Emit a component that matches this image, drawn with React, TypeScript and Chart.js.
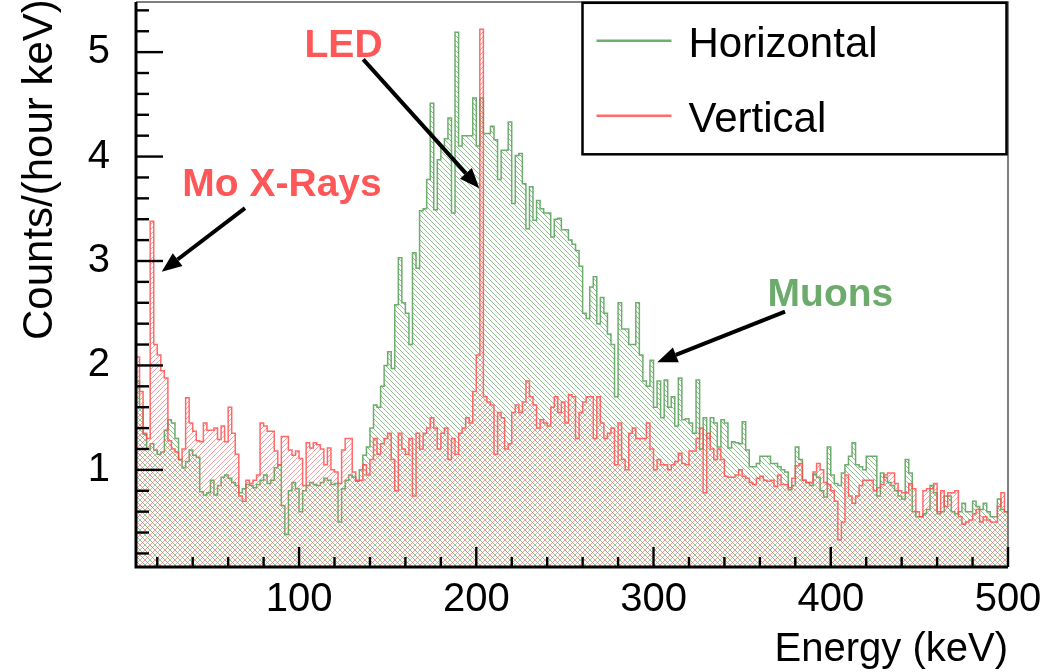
import React, { useEffect, useRef } from "react";
import { Chart, registerables } from "chart.js";

Chart.register(...registerables);

// ---------- data ----------
const X_MIN = 8;
const X_MAX = 500;
const BIN_WIDTH = 2;
const Y_MIN = 0.07;
const Y_MAX = 5.48;

// Counts/(hour keV), one value per 2 keV bin starting at 8 keV
const horizontalCounts = [
  1.85, 1.6, 1.34, 1.2, 1.25, 1.19, 1.15, 1.17, 1.38, 1.48,
  1.45, 1.3, 1.1, 1.02, 1.08, 1.19, 1.14, 1.12, 0.79, 0.76,
  0.78, 0.9, 0.76, 0.85, 0.93, 0.95, 0.92, 0.88, 0.85, 0.78,
  0.82, 0.86, 0.85, 0.83, 0.86, 0.9, 0.95, 0.87, 0.9, 1.02,
  1.05, 0.66, 0.38, 0.8, 0.88, 0.82, 0.6, 0.8, 0.85, 0.88,
  0.86, 0.85, 0.88, 0.92, 0.9, 0.86, 0.87, 0.5, 0.82, 0.9,
  0.95, 0.93, 0.89, 1.0, 1.14, 1.22, 1.4, 1.62, 1.6, 1.8,
  2.0, 2.13, 1.97, 2.58, 3.03, 2.6, 2.5, 2.2, 3.08, 2.93,
  3.48, 3.5, 3.78, 4.51, 3.49, 3.97, 4.1, 4.17, 4.37, 3.46,
  5.19, 4.1, 4.2, 4.2, 4.2, 4.56, 4.1, 4.56, 4.22, 4.22,
  4.29, 4.16, 3.78, 4.06, 4.06, 4.33, 3.55, 4.01, 4.03, 3.74,
  3.31, 3.71, 3.39, 3.58, 3.5, 3.46, 3.46, 3.23, 3.4, 3.41,
  3.3, 3.3, 3.2, 3.16, 3.1, 2.95, 2.5, 2.45, 2.75, 2.85,
  2.4, 2.65, 2.5, 2.3, 2.2, 1.7, 2.6, 2.35, 2.35, 2.2,
  2.2, 2.6, 2.1, 1.85, 1.8, 2.05, 1.6, 1.85, 1.5, 1.86,
  1.6, 1.7, 1.42, 1.88, 1.48, 1.49, 1.45, 1.35, 1.86, 1.2,
  1.5, 1.3, 1.5, 1.45, 1.22, 1.48, 1.45, 1.21, 1.27, 1.26,
  1.25, 1.46, 1.19, 1.03, 1.03, 1.06, 1.13, 1.13, 1.13, 1.06,
  1.06, 1.03, 1.0, 0.98, 0.81, 0.85, 1.22, 1.1, 0.9, 0.88,
  0.85, 0.96, 0.93, 0.8, 0.74, 1.22, 0.95, 0.87, 0.85, 0.97,
  1.05, 1.13, 1.26, 1.05, 1.03, 1.0, 1.13, 1.13, 1.13, 0.75,
  0.97, 0.93, 0.88, 0.85, 0.8, 0.75, 0.72, 1.1, 0.97, 0.6,
  0.55, 0.55, 0.58, 0.62, 0.85, 0.78, 0.58, 0.6, 0.75, 0.75,
  0.6, 0.58, 0.6, 0.68, 0.6, 0.6, 0.7, 0.65, 0.62, 0.68,
  0.6, 0.55, 0.55, 0.72, 0.62, 0.6,
];

const verticalCounts = [
  2.08, 1.75, 1.35, 1.3, 3.38, 2.2, 2.1, 1.95, 1.88, 1.28,
  1.2, 1.17, 1.1, 1.2, 1.69, 1.45, 1.37, 1.28, 1.27, 1.45,
  1.38, 1.38, 1.4, 1.29, 1.42, 1.27, 1.6, 1.35, 1.15, 0.75,
  0.7, 0.9, 0.87, 0.9, 0.95, 1.45, 1.42, 1.37, 1.37, 1.18,
  1.05, 1.32, 1.32, 1.19, 1.14, 1.18, 1.11, 0.85, 1.26, 1.21,
  1.26, 1.24, 1.2, 1.05, 1.21, 1.0, 0.98, 0.87, 1.19, 1.3,
  1.3, 0.98, 0.9, 0.9, 1.05, 0.95, 1.1, 1.3, 1.15, 1.25,
  1.3, 1.35, 1.1, 0.8, 1.35, 1.2, 1.15, 1.3, 0.75, 1.35,
  1.2, 1.35, 1.4, 1.5, 1.4, 1.2, 1.35, 1.4, 1.1, 1.3,
  1.15, 1.35, 1.4, 1.5, 1.45, 1.75, 2.1, 5.22, 1.7, 1.65,
  1.62, 1.15, 1.55, 1.5, 1.2, 1.25, 1.55, 1.62, 1.55, 1.65,
  1.85, 1.7, 1.62, 1.4, 1.48, 1.45, 1.42, 1.6, 1.7, 1.55,
  1.65, 1.45, 1.72, 1.7, 1.3, 1.55, 1.65, 1.7, 1.7, 1.3,
  1.7, 1.45, 1.3, 1.35, 1.4, 1.05, 1.45, 1.1, 1.0, 1.35,
  1.4, 1.3, 1.3, 1.3, 1.45, 1.2, 1.0, 1.1, 1.05, 1.05,
  1.0, 1.05, 1.08, 1.16, 1.06, 1.05, 1.18, 1.18, 1.3, 1.4,
  0.78, 1.35, 1.2, 1.1, 1.2, 1.1, 0.94, 0.93, 0.93, 0.95,
  1.0, 0.94, 0.92, 0.88, 0.86, 0.92, 0.94, 0.9, 0.89, 0.9,
  0.84, 0.95, 0.86, 0.86, 0.83, 0.92, 1.04, 1.06, 0.9, 0.88,
  0.88, 0.98, 1.06, 1.0, 0.88, 0.86, 0.8, 0.7, 0.33, 0.5,
  0.95, 0.75, 0.68, 0.75, 0.85, 0.9, 0.9, 0.9, 0.8, 0.83,
  0.86, 0.95, 0.97, 0.97, 0.87, 0.8, 0.78, 0.78, 0.87, 0.82,
  0.6, 0.55, 0.8, 0.82, 0.82, 0.87, 0.6, 0.8, 0.65, 0.78,
  0.78, 0.8, 0.55, 0.48, 0.5, 0.52, 0.58, 0.62, 0.5, 0.55,
  0.52, 0.5, 0.5, 0.65, 0.78, 0.6,
];

const xTickLabels = [100, 200, 300, 400, 500];
const yTickLabels = [1, 2, 3, 4, 5];
const seriesLabels = ["Horizontal", "Vertical"];
const xAxisTitle = "Energy (keV)";
const yAxisTitle = "Counts/(hour keV)";

const annotationTexts = [
  { text: "Mo X-Rays", x: 90.4, y: 3.62, series: 1 },
  { text: "LED", x: 125.1, y: 4.95, series: 1 },
  { text: "Muons", x: 399.8, y: 2.57, series: 0 },
];
const annotationArrows = [
  { x0: 69.5, y0: 3.507, x1: 22.5, y1: 2.898 },
  { x0: 136.2, y0: 4.93, x1: 201.7, y1: 3.696 },
  { x0: 374.2, y0: 2.515, x1: 302.1, y1: 2.03 },
];

// ---------- styles ----------
const FONT = '"Liberation Sans", Arial, Helvetica, sans-serif';
const LINE_COLORS = ["rgba(85,160,85,0.85)", "rgba(255,80,80,0.85)"];
const HATCH_COLORS = ["rgba(90,160,90,0.68)", "rgba(255,95,95,0.6)"];
const TEXT_COLORS = ["#6dab6d", "#ff5757"];

function makeHatch(ctx: CanvasRenderingContext2D, color: string, forward: boolean): CanvasPattern | string {
  const size = 5;
  const c = document.createElement("canvas");
  c.width = size;
  c.height = size;
  const g = c.getContext("2d");
  if (!g) return color;
  g.strokeStyle = color;
  g.lineWidth = 1;
  g.beginPath();
  for (let k = -1; k <= 1; k++) {
    const o = k * size;
    if (forward) {
      g.moveTo(o, size);
      g.lineTo(o + size, 0);
    } else {
      g.moveTo(o, 0);
      g.lineTo(o + size, size);
    }
  }
  g.stroke();
  return ctx.createPattern(c, "repeat") ?? color;
}

function toPoints(values: number[]) {
  const pts = values.map((v, i) => ({ x: X_MIN + i * BIN_WIDTH, y: v }));
  pts.push({ x: X_MAX, y: values[values.length - 1] });
  return pts;
}

const decorPlugin = {
  id: "rootDecor",
  afterDraw(chart: any) {
    const { ctx, chartArea: a, scales } = chart;
    const xs = scales.x;
    const ys = scales.y;
    ctx.save();

    // frame: thin top/right, thick axes left/bottom
    ctx.strokeStyle = "#555";
    ctx.lineWidth = 1.5;
    ctx.beginPath();
    ctx.moveTo(a.left, a.top);
    ctx.lineTo(a.right, a.top);
    ctx.lineTo(a.right, a.bottom);
    ctx.stroke();

    ctx.strokeStyle = "#000";
    ctx.lineWidth = 3;
    ctx.beginPath();
    ctx.moveTo(a.left, a.top);
    ctx.lineTo(a.left, a.bottom);
    ctx.lineTo(a.right, a.bottom);
    ctx.stroke();

    // tick marks (inside the frame)
    ctx.fillStyle = "#000";
    for (let k = 1; k * 0.2 < Y_MAX; k++) {
      const v = k * 0.2;
      if (v < Y_MIN) continue;
      const py = ys.getPixelForValue(v);
      const len = k % 5 === 0 ? 27 : 13;
      ctx.fillRect(a.left, py - 1.2, len, 2.4);
    }
    for (let e = 20; e <= X_MAX; e += 20) {
      const px = xs.getPixelForValue(e);
      const len = e % 100 === 0 ? 20 : 10;
      ctx.fillRect(px - 1.2, a.bottom - len, 2.4, len);
    }

    // axis titles
    ctx.fillStyle = "#000";
    ctx.font = `40px ${FONT}`;
    ctx.textAlign = "right";
    ctx.textBaseline = "alphabetic";
    ctx.fillText(xAxisTitle, a.right, 661);

    ctx.save();
    ctx.font = `42px ${FONT}`;
    ctx.translate(52, 0);
    ctx.rotate(-Math.PI / 2);
    ctx.textAlign = "left";
    ctx.fillText(yAxisTitle, -340, 0);
    ctx.restore();

    // annotation arrows
    ctx.strokeStyle = "#000";
    ctx.fillStyle = "#000";
    ctx.lineWidth = 4;
    for (const ar of annotationArrows) {
      const x0 = xs.getPixelForValue(ar.x0);
      const y0 = ys.getPixelForValue(ar.y0);
      const x1 = xs.getPixelForValue(ar.x1);
      const y1 = ys.getPixelForValue(ar.y1);
      const ang = Math.atan2(y1 - y0, x1 - x0);
      const hl = 20;
      const hw = 8;
      const bx = x1 - hl * Math.cos(ang);
      const by = y1 - hl * Math.sin(ang);
      ctx.beginPath();
      ctx.moveTo(x0, y0);
      ctx.lineTo(bx, by);
      ctx.stroke();
      ctx.beginPath();
      ctx.moveTo(x1, y1);
      ctx.lineTo(bx + hw * Math.sin(ang), by - hw * Math.cos(ang));
      ctx.lineTo(bx - hw * Math.sin(ang), by + hw * Math.cos(ang));
      ctx.closePath();
      ctx.fill();
    }

    // annotation labels
    ctx.font = `bold 39px ${FONT}`;
    ctx.textAlign = "center";
    ctx.textBaseline = "alphabetic";
    for (const t of annotationTexts) {
      ctx.fillStyle = TEXT_COLORS[t.series];
      ctx.fillText(t.text, xs.getPixelForValue(t.x), ys.getPixelForValue(t.y));
    }

    // legend box
    const lx = a.right - 425.5;
    const ly = a.top + 0.8;
    const lw = 424;
    const lh = 151.5;
    ctx.fillStyle = "#fff";
    ctx.fillRect(lx, ly, lw, lh);
    ctx.strokeStyle = "#000";
    ctx.lineWidth = 2.5;
    ctx.strokeRect(lx, ly, lw, lh);

    ctx.font = `42px ${FONT}`;
    ctx.textAlign = "left";
    ctx.textBaseline = "alphabetic";
    seriesLabels.forEach((label, i) => {
      const rowY = ly + 38 + i * 75;
      ctx.strokeStyle = LINE_COLORS[i];
      ctx.lineWidth = 2.5;
      ctx.beginPath();
      ctx.moveTo(lx + 14, rowY);
      ctx.lineTo(lx + 89, rowY);
      ctx.stroke();
      ctx.fillStyle = "#000";
      ctx.fillText(label, lx + 106, rowY + 16.5);
    });

    ctx.restore();
  },
};

export default function App() {
  const ref = useRef<HTMLCanvasElement>(null);

  useEffect(() => {
    const canvas = ref.current;
    if (!canvas) return;
    const ctx = canvas.getContext("2d");
    if (!ctx) return;

    const greenHatch = makeHatch(ctx, HATCH_COLORS[0], false);
    const redHatch = makeHatch(ctx, HATCH_COLORS[1], true);

    const chart = new Chart(canvas, {
      type: "line",
      data: {
        datasets: [
          {
            label: seriesLabels[1],
            data: toPoints(verticalCounts),
            stepped: true,
            borderColor: LINE_COLORS[1],
            borderWidth: 1.5,
            backgroundColor: redHatch as any,
            fill: "start",
            pointRadius: 0,
            tension: 0,
          },
          {
            label: seriesLabels[0],
            data: toPoints(horizontalCounts),
            stepped: true,
            borderColor: LINE_COLORS[0],
            borderWidth: 1.5,
            backgroundColor: greenHatch as any,
            fill: "start",
            pointRadius: 0,
            tension: 0,
          },
        ],
      },
      options: {
        responsive: false,
        animation: false,
        events: [],
        layout: { padding: { top: 2, right: 36, left: 0, bottom: 0 } },
        plugins: {
          legend: { display: false },
          tooltip: { enabled: false },
        },
        scales: {
          x: {
            type: "linear",
            min: X_MIN,
            max: X_MAX,
            grid: { display: false, drawTicks: false },
            border: { display: false },
            afterBuildTicks: (s: any) => {
              s.ticks = xTickLabels.map((v) => ({ value: v }));
            },
            afterFit: (s: any) => {
              s.height = 105;
              s.paddingLeft = 0;
              s.paddingRight = 0;
            },
            ticks: {
              color: "#000",
              font: { family: FONT, size: 40 },
              padding: 9,
              autoSkip: false,
              maxRotation: 0,
              callback: (v: any) => String(v),
            },
          },
          y: {
            type: "linear",
            min: Y_MIN,
            max: Y_MAX,
            grid: { display: false, drawTicks: false },
            border: { display: false },
            afterBuildTicks: (s: any) => {
              s.ticks = yTickLabels.map((v) => ({ value: v }));
            },
            afterFit: (s: any) => {
              s.width = 136;
              s.paddingTop = 0;
              s.paddingBottom = 0;
            },
            ticks: {
              color: "#000",
              font: { family: FONT, size: 40 },
              padding: 26,
              autoSkip: false,
              callback: (v: any) => String(v),
            },
          },
        },
      },
      plugins: [decorPlugin],
    } as any);

    return () => chart.destroy();
  }, []);

  return (
    <div style={{ position: "absolute", left: 0, top: 0, width: 1044, height: 672, background: "#fff" }}>
      <canvas ref={ref} width={1044} height={672} style={{ display: "block", width: 1044, height: 672 }} />
    </div>
  );
}
